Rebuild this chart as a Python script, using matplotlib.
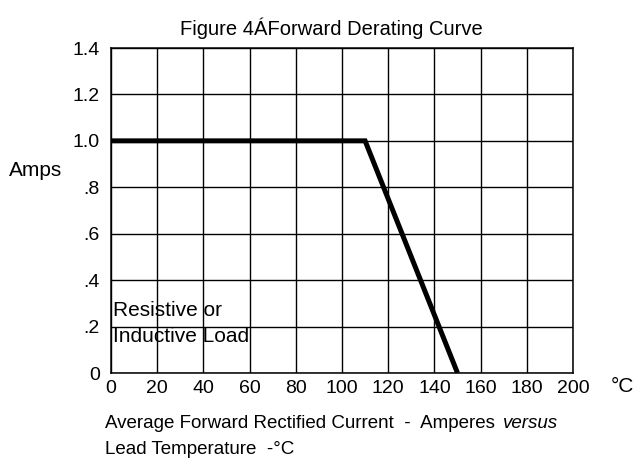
import matplotlib
matplotlib.use("Agg")
import matplotlib.pyplot as plt

plt.rcParams['font.family'] = ['Liberation Sans', 'DejaVu Sans']

# derating curve: lead temperature (C) vs forward current (A)
temp = [0, 110, 150]
amps = [1.0, 1.0, 0.0]

xticks = [0, 20, 40, 60, 80, 100, 120, 140, 160, 180, 200]
yticks = [0, 0.2, 0.4, 0.6, 0.8, 1.0, 1.2, 1.4]
ylabels = ['0', '.2', '.4', '.6', '.8', '1.0', '1.2', '1.4']

fs = 15
tick_fs = 14
note_fs = 13.5

fig = plt.figure(figsize=(6.36, 4.59), dpi=100)
ax = fig.add_axes([111/636, 1 - 373/459, 462/636, 325/459])

ax.plot(temp, amps, color='black', lw=3.6, solid_capstyle='butt', solid_joinstyle='miter')

ax.set_xlim(0, 200)
ax.set_ylim(0, 1.4)
ax.set_xticks(xticks)
ax.set_yticks(yticks)
ax.set_yticklabels(ylabels)
ax.grid(True, color='black', lw=1.0)
ax.tick_params(length=0, labelsize=tick_fs)
ax.tick_params(axis='y', pad=8)
ax.tick_params(axis='x', pad=5)
for s in ax.spines.values():
    s.set_linewidth(1.1)

ax.text(0.9, 0.268, 'Resistive or', fontsize=fs, va='center')
ax.text(0.9, 0.156, 'Inductive Load', fontsize=fs, va='center')

fig.text(331/636, 1 - 28/459, 'Figure 4ÁForward Derating Curve', fontsize=fs - 0.5, ha='center', va='center')
fig.text(36/636, 1 - 170/459, 'Amps', fontsize=fs, ha='center', va='center')
fig.text(622/636, 1 - 386/459, '°C', fontsize=fs, ha='center', va='center')
fig.text(105/636, 1 - 424/459, 'Average Forward Rectified Current  -  Amperes', fontsize=note_fs, va='center')
fig.text(503/636, 1 - 424/459, 'versus', fontsize=note_fs, va='center', style='italic')
fig.text(105/636, 1 - 449/459, 'Lead Temperature  -°C', fontsize=note_fs, va='center')

fig.savefig('out.png', dpi=100)
